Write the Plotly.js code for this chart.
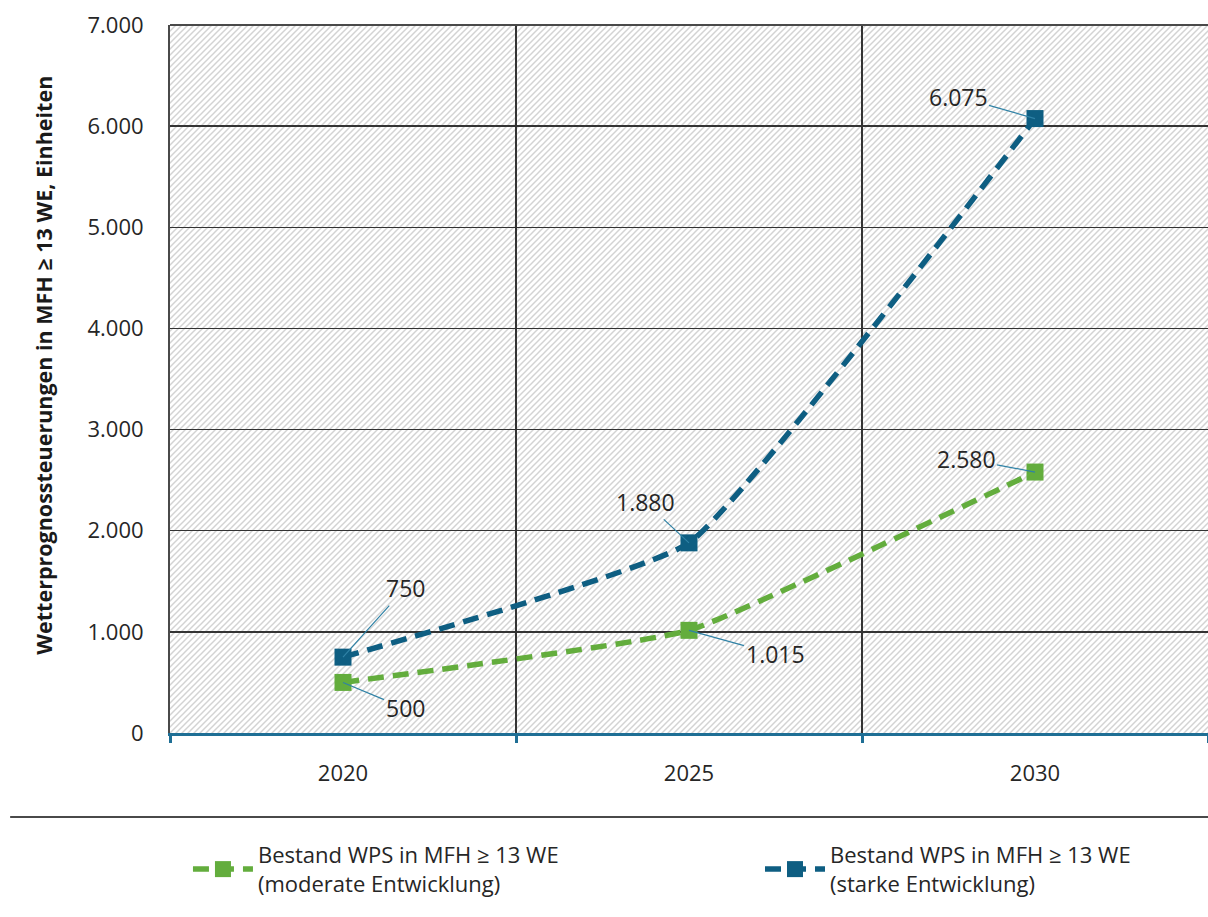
<!DOCTYPE html>
<html><head><meta charset="utf-8">
<script src="https://cdn.plot.ly/plotly-3.0.1.min.js"></script>
<style>body{margin:0;background:#fff}#chart{width:1208px;height:917px}</style></head>
<body><div id="chart"></div>
<script>
// ---- data ----
const years = ['2020', '2025', '2030'];
const moderate = [500, 1015, 2580];
const starke = [750, 1880, 6075];
const seriesNames = [
  'Bestand WPS in MFH ≥ 13 WE<br>(moderate Entwicklung)',
  'Bestand WPS in MFH ≥ 13 WE<br>(starke Entwicklung)'
];
const yTickVals = [0, 1000, 2000, 3000, 4000, 5000, 6000, 7000];
const yMax = 7000;
const yTitle = 'Wetterprognossteuerungen in MFH ≥ 13 WE, Einheiten';

// ---- style ----
const FONT = 'Open Sans, Noto Sans, sans-serif';
const GREEN = '#63ad3d';
const BLUE = '#0e5e82';
const LEADER = '#2f82a6';
const fmt = v => String(v).replace(/\B(?=(\d{3})+(?!\d))/g, '.');

const W = 1208, H = 917;
const M = { l: 170, r: 0, t: 25, b: 184 };
const PW = W - M.l - M.r, PH = H - M.t - M.b;

// hatched plot background (decoration)
const hatchSvg =
  '<svg xmlns="http://www.w3.org/2000/svg" width="' + PW + '" height="' + PH + '">' +
  '<defs><pattern id="h" patternUnits="userSpaceOnUse" width="6" height="6">' +
  '<path d="M-1,1 L1,-1 M0,6 L6,0 M5,7 L7,5" stroke="#d3d3d3" stroke-width="1.5"/>' +
  '</pattern></defs><rect width="100%" height="100%" fill="#ffffff"/>' +
  '<rect width="100%" height="100%" fill="url(#h)"/></svg>';
const hatchUri = 'data:image/svg+xml;charset=utf-8,' + encodeURIComponent(hatchSvg);

const lineTrace = (vals, color, name, legend) => ({
  type: 'scatter', mode: 'lines+markers', x: years, y: vals, name: name, legend: legend,
  line: { color: color, width: 5.5, dash: '16px,9px', shape: 'spline', smoothing: 0.35 },
  marker: { symbol: 'square', size: 17, color: color }
});

const traces = [
  lineTrace(moderate, GREEN, seriesNames[0], 'legend'),
  lineTrace(starke, BLUE, seriesNames[1], 'legend2')
];

const offsetsModerate = [[62, 26], [86, 24], [-69, -13]];
const offsetsStarke = [[62, -69], [-44, -41], [-77, -22]];
const annotations = [];
function addLabels(vals, offs) {
  vals.forEach((v, i) => {
    annotations.push({
      x: i, y: v, xref: 'x', yref: 'y', text: fmt(v),
      showarrow: true, arrowhead: 0, arrowwidth: 1.2, arrowcolor: LEADER,
      ax: offs[i][0], ay: offs[i][1], standoff: 0,
      font: { family: FONT, size: 23, color: '#262626' }
    });
  });
}
addLabels(moderate, offsetsModerate);
addLabels(starke, offsetsStarke);
annotations.push({
  xref: 'paper', yref: 'paper', x: -0.1215, y: 0.52, xanchor: 'center', yanchor: 'middle',
  text: '<b>' + yTitle + '</b>', textangle: -90, showarrow: false,
  font: { family: FONT, size: 21.5, color: '#1a1a1a' }
});

const legendBase = {
  orientation: 'h', xanchor: 'left', yanchor: 'top', yref: 'container', y: 0.0905,
  font: { family: FONT, size: 22, color: '#262626' }, bgcolor: 'rgba(0,0,0,0)', itemwidth: 60
};

const layout = {
  width: W, height: H,
  margin: M,
  paper_bgcolor: '#ffffff', plot_bgcolor: 'rgba(0,0,0,0)',
  separators: ',.',
  font: { family: FONT, size: 22, color: '#262626' },
  showlegend: true,
  images: [{ source: hatchUri, xref: 'paper', yref: 'paper', x: 0, y: 1, sizex: 1, sizey: 1,
    xanchor: 'left', yanchor: 'top', sizing: 'stretch', layer: 'below' }],
  xaxis: {
    type: 'category', tickson: 'boundaries', range: [-0.5, 2.5],
    showgrid: true, gridcolor: '#333333', gridwidth: 1.3,
    showline: true, linecolor: '#1f6f95', linewidth: 3,
    ticks: 'outside', ticklen: 7, tickwidth: 3, tickcolor: '#1f6f95',
    tickfont: { family: FONT, size: 22, color: '#262626' },
    ticklabelstandoff: 19, fixedrange: true
  },
  yaxis: {
    range: [0, yMax], tickvals: yTickVals, ticktext: yTickVals.map(fmt),
    showgrid: true, gridcolor: '#333333', gridwidth: 1.3,
    showline: true, linecolor: '#4a4a4a', linewidth: 2,
    ticks: '', ticklabelstandoff: 20, zeroline: false,
    tickfont: { family: FONT, size: 22, color: '#262626' }, fixedrange: true
  },
  shapes: [
    { type: 'line', xref: 'paper', yref: 'paper', x0: 0, x1: 1, y0: 1, y1: 1,
      line: { color: '#4a4a4a', width: 2 } },
    { type: 'line', xref: 'paper', yref: 'paper', x0: -0.154, x1: 1, y0: -0.1186, y1: -0.1186,
      line: { color: '#4a4a4a', width: 2 } }
  ],
  legend: Object.assign({}, legendBase, { x: 0.0173 }),
  legend2: Object.assign({}, legendBase, { x: 0.5684 }),
  annotations: annotations
};

Plotly.newPlot('chart', traces, layout, { displayModeBar: false, staticPlot: true });
</script>
</body></html>
